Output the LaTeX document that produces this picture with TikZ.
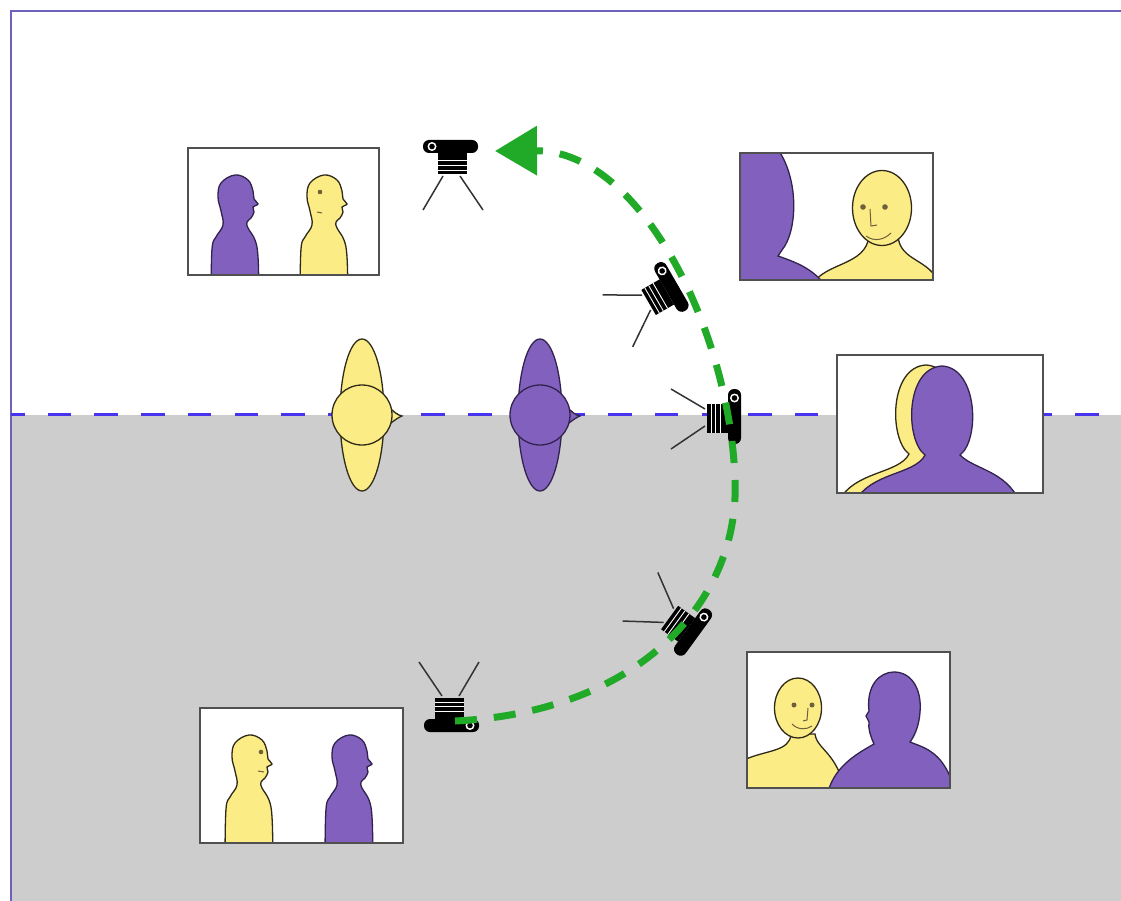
\documentclass[tikz,border=0pt]{standalone}
\usetikzlibrary{arrows.meta}

\definecolor{figyellow}{RGB}{252,236,134}
\definecolor{figpurple}{RGB}{129,97,189}
\definecolor{yline}{RGB}{48,42,24}
\definecolor{pline}{RGB}{50,34,78}
\definecolor{feat}{RGB}{110,96,60}
\definecolor{floorgray}{RGB}{205,205,205}
\definecolor{bordercol}{RGB}{108,98,188}
\definecolor{axisblue}{RGB}{72,52,238}
\definecolor{trackgreen}{RGB}{32,170,40}
\definecolor{shotframe}{RGB}{80,80,80}

\tikzset{
  yfig/.style={fill=figyellow, draw=yline, line width=1.3pt},
  pfig/.style={fill=figpurple, draw=pline, line width=1.3pt},
  shotedge/.style={draw=shotframe, line width=2pt},
  featline/.style={draw=feat, line width=1pt},
  camleg/.style={draw=black!80, line width=1.5pt},
  track/.style={draw=trackgreen, line width=7pt, dash pattern=on 22pt off 17pt,
    -{Triangle[length=42pt, width=48pt]}},
  % camera on its tripod, lens to the left
  camera/.pic={
    \fill[rounded corners=6pt] (-29,-24) rectangle (26,-11);
    \fill[white] (-20,-17.5) circle (4.5);
    \fill (-20,-17.5) circle (2.8);
    \fill (-14,-11) rectangle (15,10);
    \foreach \s in {-3.5,1.5,6}
      \draw[white, line width=0.9pt] (-14,\s) -- (15,\s);
    \draw[camleg] (-9,12) -- (-29,46) (8,12) -- (31,46);
  },
  % person seen from above, nose to the right
  overhead/.pic={
    \path[pic actions] (0,0) ellipse [x radius=22, y radius=76];
    \path[pic actions] (26,-9) .. controls (32,-3) and (35,0) .. (40,1)
      .. controls (35,3) and (32,6) .. (26,10) -- cycle;
    \path[pic actions] (0,0) circle (30);
  },
  % head and shoulders in profile, facing right
  profile/.pic={
    \path[pic actions] plot[smooth, tension=0.65] coordinates {(-26,100) (-25,52)
      (-21,40) (-14,28) (-16,14) (-19,0) (-16,-14) (-2,-22) (11,-17) (16,-6)
      (17,2) (21,7) (16,10) (17,15) (14,21) (10,25) (11,31) (18,43) (21,60)
      (22,100)} -- cycle;
  },
  % head and shoulders seen from behind
  backview/.pic={
    \path[pic actions] (-87,92) .. controls (-72,62) and (-27,65) .. (-17,45)
      .. controls (-37,30) and (-37,-42) .. (0,-44)
      .. controls (36,-42) and (38,30) .. (18,45)
      .. controls (33,60) and (63,60) .. (78,92) -- cycle;
  }
}

\begin{document}
\begin{tikzpicture}[x=1pt, y=-1pt]
  \useasboundingbox (0,0) rectangle (1121,901);
  \fill[white] (0,0) rectangle (1121,901);

  % floor below the line of interest
  \fill[floorgray] (11,415) rectangle (1121,901);
  \draw[bordercol, line width=2pt] (11,901) -- (11,11) -- (1121,11);
  \draw[axisblue, line width=3pt, dash pattern=on 23.5pt off 23.2pt, dash phase=10pt]
    (11,414) -- (1121,414);

  % the two actors from above
  \pic[yfig] at (362,415) {overhead};
  \begin{scope}[shift={(540,415)}, xscale=-1]
    \pic[pfig] {overhead};
  \end{scope}

  % shot from the top camera
  \fill[white] (188,148) rectangle (379,275);
  \begin{scope}
    \clip (188,148) rectangle (379,275);
    \pic[pfig] at (237,197) {profile};
    \begin{scope}[shift={(326,197)}, xscale=-1]
      \pic[yfig] {profile};
    \end{scope}
    \fill[feat] (320,192) circle (2.3);
    \draw[featline] (317,212) -- (322,213);
  \end{scope}
  \draw[shotedge] (188,148) rectangle (379,275);

  % over the shoulder
  \fill[white] (740,153) rectangle (933,280);
  \begin{scope}
    \clip (740,153) rectangle (933,280);
    \path[yfig] (812,285) .. controls (825,262) and (866,266) .. (869,236)
      -- (898,236) .. controls (900,262) and (930,258) .. (940,285) -- cycle;
    \path[yfig] (882,208) ellipse [x radius=29.5, y radius=37.5];
    \fill[feat] (863,207) circle (2.8) (885,207) circle (2.8);
    \draw[featline] (870,209) -- (871,226) -- (877,225);
    \draw[featline] (866,236) .. controls (874,242) and (884,240) .. (891,233);
    \path[pfig] (735,148) -- (777,148) .. controls (800,180) and (797,232) .. (782,250)
      -- (778,256) .. controls (795,262) and (812,268) .. (825,285) -- (735,285) -- cycle;
  \end{scope}
  \draw[shotedge] (740,153) rectangle (933,280);

  % on the line, from behind
  \fill[white] (837,355) rectangle (1043,493);
  \begin{scope}
    \clip (837,355) rectangle (1043,493);
    \pic[yfig] at (926,409) {backview};
    \pic[pfig] at (942,410) {backview};
  \end{scope}
  \draw[shotedge] (837,355) rectangle (1043,493);

  % reverse over the shoulder
  \fill[white] (747,652) rectangle (950,788);
  \begin{scope}
    \clip (747,652) rectangle (950,788);
    \path[yfig] (742,795) -- (744,760) .. controls (765,750) and (790,752) .. (791,734)
      -- (815,734) .. controls (817,750) and (838,752) .. (846,795) -- cycle;
    \path[yfig] (798,708) ellipse [x radius=23.5, y radius=30];
    \fill[feat] (794,705) circle (2.5) (812,705) circle (2.5);
    \draw[featline] (808,708) -- (807,720) -- (803,721);
    \draw[featline] (792,724) .. controls (798,730) and (806,730) .. (812,726);
    \path[pfig] (828,792) .. controls (835,765) and (860,752) .. (874,744)
      .. controls (870,735) and (868,728) .. (869,722) -- (866,716) -- (869,711)
      .. controls (866,685) and (880,672) .. (894,672)
      .. controls (912,672) and (922,690) .. (920,712)
      .. controls (919,728) and (913,738) .. (910,742)
      .. controls (925,748) and (945,752) .. (955,792) -- cycle;
  \end{scope}
  \draw[shotedge] (747,652) rectangle (950,788);

  % shot from the far side
  \fill[white] (200,708) rectangle (403,843);
  \begin{scope}
    \clip (200,708) rectangle (403,843);
    \pic[yfig] at (251,757) {profile};
    \begin{scope}[shift={(351,757)}, xscale=-1]
      \pic[pfig] {profile};
    \end{scope}
    \fill[feat] (261,752) circle (2.3);
    \draw[featline] (258,771) -- (264,772);
  \end{scope}
  \draw[shotedge] (200,708) rectangle (403,843);

  % cameras along the move
  \pic at (452,164) {camera};
  \pic[rotate=-60] at (657,297) {camera};
  \pic[rotate=-90] at (717,418) {camera};
  \pic[rotate=-126] at (678,623) {camera};
  \pic[rotate=-180] at (450,708) {camera};

  % the camera path
  \coordinate (arcstart) at (455,721);
  \coordinate (arcmid) at (735,480);
  \coordinate (arctip) at (495,151);
  \draw[track] (arcstart) .. controls (640,712) and (740,600) .. (arcmid)
    .. controls (730,330) and (640,150) .. (arctip);
\end{tikzpicture}
\end{document}
